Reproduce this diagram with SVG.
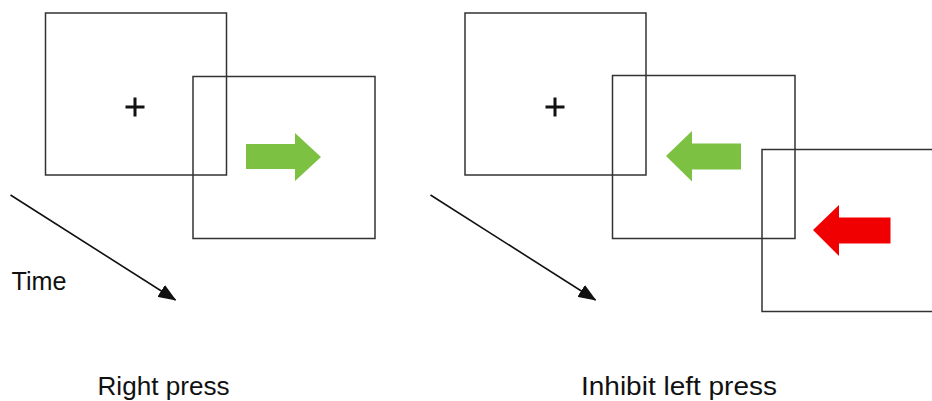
<svg xmlns="http://www.w3.org/2000/svg" width="932" height="401" viewBox="0 0 932 401">
  <style>
    .frame { fill: none; stroke: #333; stroke-width: 1.5; }
    .fix { stroke: #111; stroke-width: 3; fill: none; }
    .label { font-family: "Liberation Sans", Arial, sans-serif; font-size: 25px; fill: #111; }
    .time { stroke: #111; stroke-width: 1.6; fill: none; }
    .go { fill: #7dc142; }
    .stop { fill: #f00000; }
  </style>
  <defs>
    <marker id="tip" viewBox="0 0 18 14" refX="17" refY="7" markerWidth="18" markerHeight="14" markerUnits="userSpaceOnUse" orient="auto">
      <path d="M0,0 L18,7 L0,14 Z" fill="#111"/>
    </marker>
  </defs>

  <!-- Left trial: fixation then go signal -->
  <g id="left-fixation">
    <rect class="frame" x="45.5" y="13" width="181" height="162"/>
    <path class="fix" d="M125.5,107 H144.5 M135,97.5 V116.5"/>
  </g>
  <g id="left-go">
    <rect class="frame" x="193" y="76.5" width="182" height="162"/>
    <path class="go" d="M246,144 H295 V133 L321,157 L295,181 V169 H246 Z"/>
  </g>

  <!-- Right trial: fixation, go signal, stop signal -->
  <g id="right-fixation">
    <rect class="frame" x="465" y="13" width="181" height="162"/>
    <path class="fix" d="M545.5,107 H564.5 M555,97.5 V116.5"/>
  </g>
  <g id="right-go">
    <rect class="frame" x="612.5" y="75.5" width="182.5" height="163"/>
    <path class="go" d="M741,143.5 H692 V131 L666,156 L692,181.5 V169.5 H741 Z"/>
  </g>
  <g id="right-stop">
    <rect class="frame" x="762" y="149.5" width="172" height="162"/>
    <path class="stop" d="M890.5,217.5 H839 V205 L813,230 L839,256 V243.5 H890.5 Z"/>
  </g>

  <!-- Time axes -->
  <g id="connectors">
    <line class="time" x1="10.5" y1="195" x2="175.5" y2="300" marker-end="url(#tip)"/>
    <line class="time" x1="430.5" y1="195" x2="595.5" y2="300" marker-end="url(#tip)"/>
  </g>

  <g id="labels">
    <text class="label" x="11.5" y="290" textLength="55" lengthAdjust="spacingAndGlyphs">Time</text>
    <text class="label" x="97.5" y="395" textLength="132" lengthAdjust="spacingAndGlyphs">Right press</text>
    <text class="label" x="581" y="395" textLength="196" lengthAdjust="spacingAndGlyphs">Inhibit left press</text>
  </g>
</svg>
